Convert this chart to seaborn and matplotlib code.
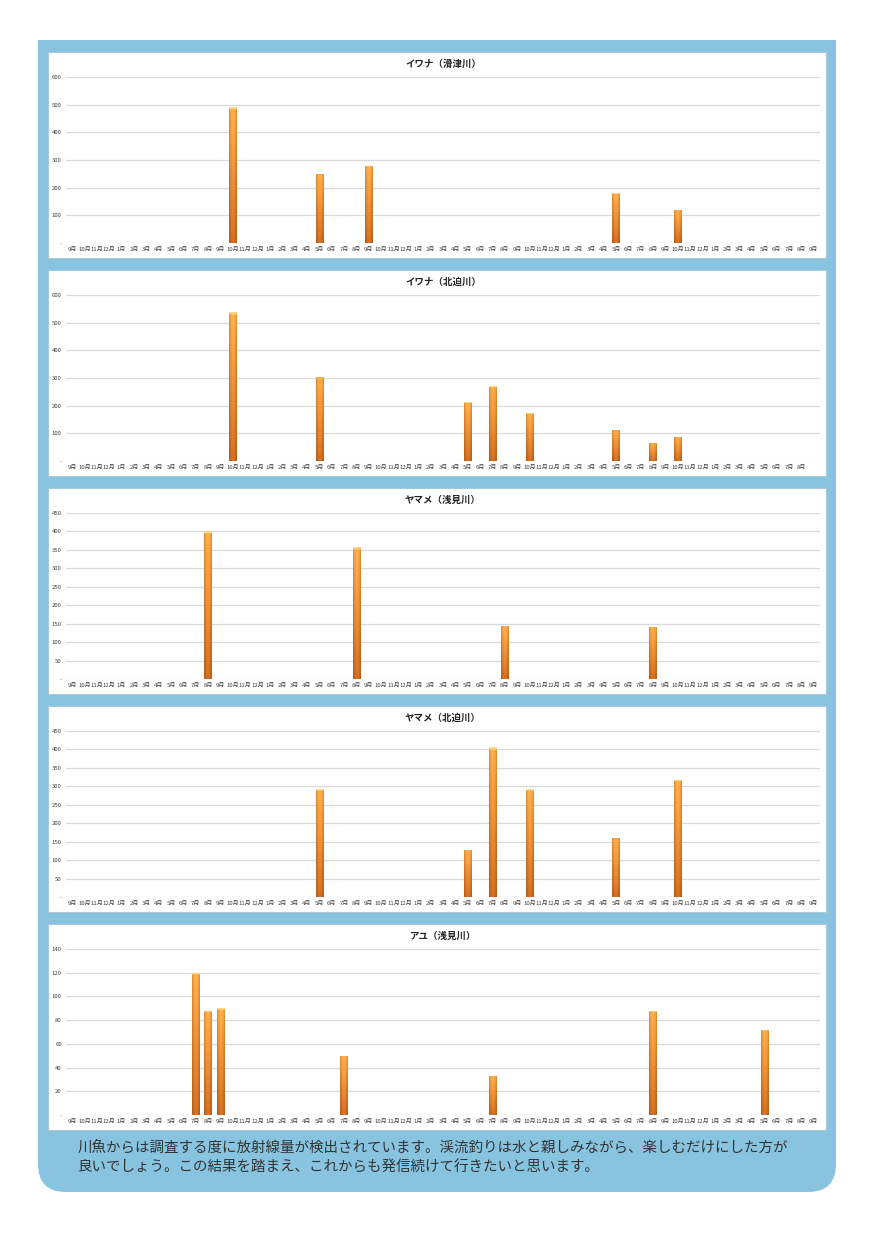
import numpy as np
import pandas as pd
import matplotlib
matplotlib.use('Agg')
import matplotlib.pyplot as plt
import seaborn as sns
from matplotlib.patches import FancyBboxPatch, Rectangle

sns.set_theme(style='white')
plt.rcParams['font.family'] = ['Noto Sans CJK JP', 'DejaVu Sans']

# month axis (Sep -> Sep, five years)
month_labels = [
    '9月', '10月', '11月', '12月', '1月', '2月', '3月', '4月', '5月', '6月', '7月', '8月',
    '9月', '10月', '11月', '12月', '1月', '2月', '3月', '4月', '5月', '6月', '7月', '8月',
    '9月', '10月', '11月', '12月', '1月', '2月', '3月', '4月', '5月', '6月', '7月', '8月',
    '9月', '10月', '11月', '12月', '1月', '2月', '3月', '4月', '5月', '6月', '7月', '8月',
    '9月', '10月', '11月', '12月', '1月', '2月', '3月', '4月', '5月', '6月', '7月', '8月',
    '9月',
]
labels_short = month_labels[:60] + ['']

# Bq/kg per month, 0 = not measured
iwana_namezu = [
    0, 0, 0, 0, 0, 0, 0, 0, 0, 0, 0, 0,
    0, 490, 0, 0, 0, 0, 0, 0, 250, 0, 0, 0,
    280, 0, 0, 0, 0, 0, 0, 0, 0, 0, 0, 0,
    0, 0, 0, 0, 0, 0, 0, 0, 180, 0, 0, 0,
    0, 121, 0, 0, 0, 0, 0, 0, 0, 0, 0, 0,
    0,
]
iwana_kitasako = [
    0, 0, 0, 0, 0, 0, 0, 0, 0, 0, 0, 0,
    0, 537, 0, 0, 0, 0, 0, 0, 305, 0, 0, 0,
    0, 0, 0, 0, 0, 0, 0, 0, 213, 0, 270, 0,
    0, 173, 0, 0, 0, 0, 0, 0, 113, 0, 0, 66,
    0, 88, 0, 0, 0, 0, 0, 0, 0, 0, 0, 0,
    0,
]
yamame_asami = [
    0, 0, 0, 0, 0, 0, 0, 0, 0, 0, 0, 400,
    0, 0, 0, 0, 0, 0, 0, 0, 0, 0, 0, 357,
    0, 0, 0, 0, 0, 0, 0, 0, 0, 0, 0, 145,
    0, 0, 0, 0, 0, 0, 0, 0, 0, 0, 0, 142,
    0, 0, 0, 0, 0, 0, 0, 0, 0, 0, 0, 0,
    0,
]
yamame_kitasako = [
    0, 0, 0, 0, 0, 0, 0, 0, 0, 0, 0, 0,
    0, 0, 0, 0, 0, 0, 0, 0, 292, 0, 0, 0,
    0, 0, 0, 0, 0, 0, 0, 0, 128, 0, 406, 0,
    0, 292, 0, 0, 0, 0, 0, 0, 161, 0, 0, 0,
    0, 318, 0, 0, 0, 0, 0, 0, 0, 0, 0, 0,
    0,
]
ayu_asami = [
    0, 0, 0, 0, 0, 0, 0, 0, 0, 0, 120, 88,
    90, 0, 0, 0, 0, 0, 0, 0, 0, 0, 50, 0,
    0, 0, 0, 0, 0, 0, 0, 0, 0, 0, 33, 0,
    0, 0, 0, 0, 0, 0, 0, 0, 0, 0, 0, 88,
    0, 0, 0, 0, 0, 0, 0, 0, 72, 0, 0, 0,
    0,
]

panels = [
    ('イワナ（滑津川）', iwana_namezu, month_labels, 600, 100),
    ('イワナ（北迫川）', iwana_kitasako, labels_short, 600, 100),
    ('ヤマメ（浅見川）', yamame_asami, month_labels, 450, 50),
    ('ヤマメ（北迫川）', yamame_kitasako, month_labels, 450, 50),
    ('アユ（浅見川）', ayu_asami, month_labels, 140, 20),
]

note_lines = [
    '川魚からは調査する度に放射線量が検出されています。渓流釣りは水と親しみながら、楽しむだけにした方が',
    '良いでしょう。この結果を踏まえ、これからも発信続けて行きたいと思います。',
]

W, H = 874, 1236
fig = plt.figure(figsize=(W / 100, H / 100), dpi=100)
fig.patch.set_facecolor('white')

# background in pixel coordinates
bg = fig.add_axes([0, 0, 1, 1])
bg.set_xlim(0, W)
bg.set_ylim(H, 0)
bg.axis('off')
blue = '#88C4DF'
bg.add_patch(FancyBboxPatch((38, 40), 798, 1152, boxstyle='round,pad=0,rounding_size=28',
                            fc=blue, ec='none'))
bg.add_patch(Rectangle((38, 40), 798, 100, fc=blue, ec='none'))
for i in range(len(panels)):
    top = 52 + 218 * i
    bg.add_patch(Rectangle((48, top), 778, 206, fc='white', ec='#A9C9DA', lw=0.8))
for j, line in enumerate(note_lines):
    bg.text(78, 1148 + 20 * j, line, fontsize=10.45, color='#333333', va='center', ha='left')


def px_axes(x0, y0, x1, y1):
    return fig.add_axes([x0 / W, 1 - y1 / H, (x1 - x0) / W, (y1 - y0) / H])


def shade_bars(ax):
    # cylinder-like orange gradient clipped to each bar
    top_c = np.array([1.0, 0.66, 0.28])
    bot_c = np.array([0.80, 0.42, 0.12])
    t = np.linspace(0, 1, 64)[:, None, None]
    vert = top_c * (1 - t) + bot_c * t
    s = np.linspace(-1, 1, 16)[None, :, None]
    horiz = 1.06 - 0.22 * s ** 2
    grad = np.clip(vert * horiz, 0, 1)
    grad[0, :, :] = np.array([1.0, 0.85, 0.55])
    for p in list(ax.patches):
        h = p.get_height()
        if h <= 0:
            continue
        x0 = p.get_x()
        w = p.get_width()
        im = ax.imshow(grad, extent=(x0, x0 + w, 0, h), origin='upper',
                       aspect='auto', zorder=3, interpolation='bilinear')
        im.set_clip_path(p)


for i, (title, values, labels, ymax, step) in enumerate(panels):
    top = 77 + 218 * i
    ax = px_axes(66, top, 820, top + 166)
    df = pd.DataFrame({'idx': np.arange(len(values)), 'value': values})
    sns.barplot(data=df, x='idx', y='value', color='#F0922E', width=0.6,
                linewidth=0, saturation=1, ax=ax)
    shade_bars(ax)
    ax.set_xlim(-0.5, len(values) - 0.5)
    ax.set_ylim(0, ymax)
    yt = np.arange(0, ymax + 1, step)
    ax.set_yticks(yt)
    ax.set_yticklabels(['-'] + [str(v) for v in yt[1:]])
    ax.set_xticks(np.arange(len(values)))
    ax.set_xticklabels(labels)
    ax.tick_params(axis='both', length=0, labelsize=4.3, labelcolor='#404040')
    ax.tick_params(axis='x', pad=3)
    ax.tick_params(axis='y', pad=3)
    ax.yaxis.grid(True, color='#D9D9D9', lw=0.9)
    ax.set_axisbelow(True)
    for sp in ax.spines.values():
        sp.set_visible(False)
    ax.set_xlabel('')
    ax.set_ylabel('')
    ax.set_title(title, fontsize=6.8, fontweight='bold', color='#222222', pad=7)

fig.savefig('out.png', dpi=100, facecolor='white')
